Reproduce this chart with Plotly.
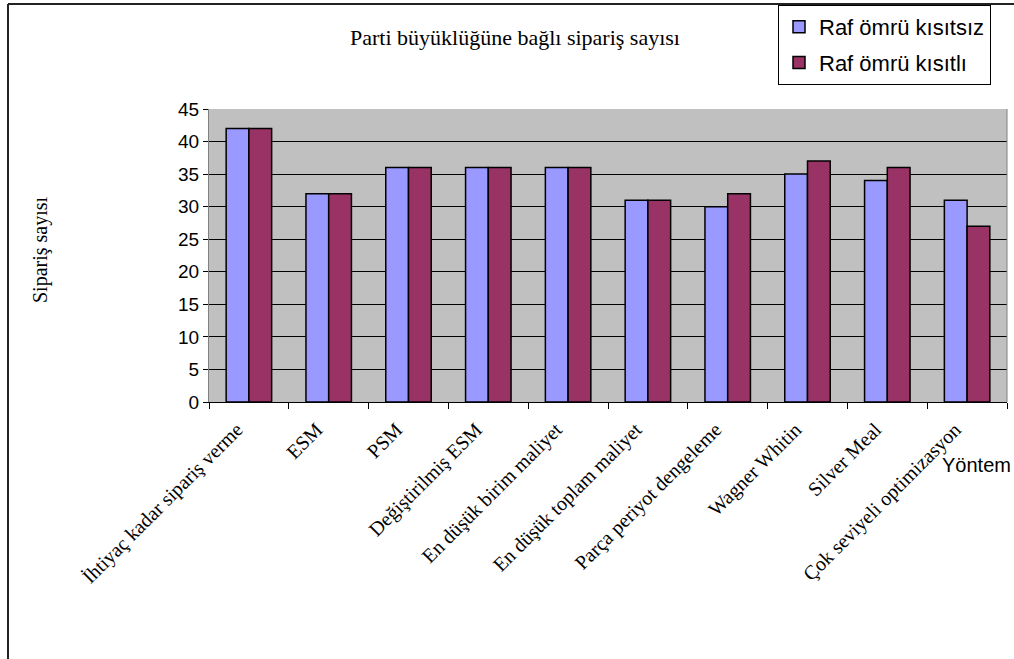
import plotly.graph_objects as go

# Lot-sizing methods and number of orders for each shelf-life case
methods = [
    "İhtiyaç kadar sipariş verme",
    "ESM",
    "PSM",
    "Değiştirilmiş ESM",
    "En düşük birim maliyet",
    "En düşük toplam maliyet",
    "Parça periyot dengeleme",
    "Wagner Whitin",
    "Silver Meal",
    "Çok seviyeli optimizasyon",
]
unconstrained = [42, 32, 36, 36, 36, 31, 30, 35, 34, 31]
constrained = [42, 32, 36, 36, 36, 31, 32, 37, 36, 27]
y_ticks = [0, 5, 10, 15, 20, 25, 30, 35, 40, 45]

W, H = 1014, 659
x0, x1 = 209, 1007
y_top, y_bot = 109, 402

SERIF = "Liberation Serif, Times New Roman, serif"
SANS = "Liberation Sans, Arial, sans-serif"

fig = go.Figure()
fig.add_trace(go.Bar(
    x=methods, y=unconstrained, name="Raf ömrü kısıtsız",
    marker=dict(color="#9999FF", line=dict(color="black", width=1.5)),
    legendgroup="a",
))
fig.add_trace(go.Bar(
    x=methods, y=constrained, name="Raf ömrü kısıtlı",
    marker=dict(color="#993366", line=dict(color="black", width=1.5)),
    legendgroup="b",
))

fig.update_layout(
    width=W, height=H,
    margin=dict(l=0, r=0, t=0, b=0),
    paper_bgcolor="white",
    plot_bgcolor="#C0C0C0",
    barmode="group",
    bargap=0.43,
    bargroupgap=0,
    showlegend=True,
    legend=dict(
        x=778 / W, y=1 - 5 / H, xanchor="left", yanchor="top",
        bgcolor="white", bordercolor="black", borderwidth=1,
        font=dict(family=SANS, size=22, color="black"),
        traceorder="grouped", tracegroupgap=4,
        itemwidth=30,
    ),
    xaxis=dict(
        domain=[x0 / W, x1 / W],
        automargin=False,
        tickangle=-45,
        tickson="boundaries",
        ticks="outside", ticklen=6, tickcolor="black",
        showline=True, linecolor="black", linewidth=1,
        tickfont=dict(family=SERIF, size=20, color="black"),
        ticklabelstandoff=7,
        ticklabelshift=-12,
        showgrid=False,
    ),
    yaxis=dict(
        domain=[1 - y_bot / H, 1 - y_top / H],
        automargin=False,
        range=[0, 45],
        tickvals=y_ticks,
        ticks="outside", ticklen=5, tickcolor="black",
        showline=True, linecolor="#808080", linewidth=1,
        tickfont=dict(family=SANS, size=19, color="black"),
        showgrid=True, gridcolor="black", gridwidth=1,
        zeroline=False,
    ),
    shapes=[
        # chart frame (left and top edges)
        dict(type="line", xref="paper", yref="paper",
             x0=8 / W, x1=8 / W, y0=0, y1=1 - 4 / H,
             line=dict(color="#222222", width=2)),
        dict(type="line", xref="paper", yref="paper",
             x0=8 / W, x1=1, y0=1 - 4 / H, y1=1 - 4 / H,
             line=dict(color="#222222", width=2)),
        # right edge of plot area
        dict(type="line", xref="paper", yref="paper",
             x0=x1 / W, x1=x1 / W, y0=1 - y_bot / H, y1=1 - y_top / H,
             line=dict(color="#808080", width=1)),
    ],
    annotations=[
        dict(text="Parti büyüklüğüne bağlı sipariş sayısı",
             xref="paper", yref="paper", x=515 / W, y=1 - 37 / H,
             showarrow=False, xanchor="center", yanchor="middle",
             font=dict(family=SERIF, size=22, color="black")),
        dict(text="Sipariş sayısı",
             xref="paper", yref="paper", x=40 / W, y=1 - 250 / H,
             showarrow=False, textangle=-90, xanchor="center", yanchor="middle",
             font=dict(family=SERIF, size=20, color="black")),
        dict(text="Yöntem",
             xref="paper", yref="paper", x=1013 / W, y=1 - 465 / H,
             showarrow=False, xanchor="right", yanchor="middle",
             font=dict(family=SANS, size=20, color="black")),
    ],
)

fig.write_html("out.html")
